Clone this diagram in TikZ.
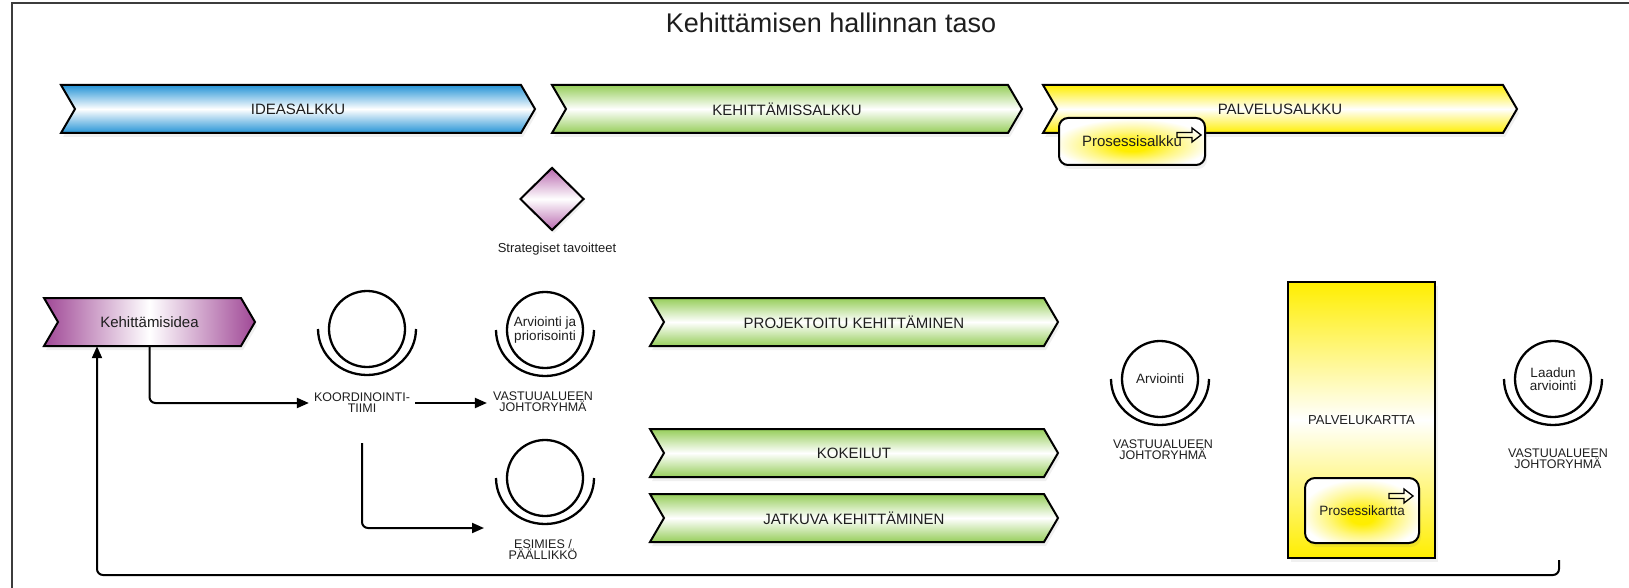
\documentclass[tikz,border=0pt]{standalone}
\usepackage{fontspec}
\setmainfont{Liberation Sans}
\usetikzlibrary{arrows.meta,shapes.geometric,shadows}

\definecolor{cblue}{RGB}{38,148,214}
\definecolor{cgreen}{RGB}{150,206,90}
\definecolor{cyellow}{RGB}{255,238,0}
\definecolor{cpurple}{RGB}{160,72,150}
\definecolor{cpink}{RGB}{185,105,175}
\definecolor{ink}{RGB}{30,30,30}
\definecolor{framegray}{RGB}{60,60,60}

% soft yellow glow for the process boxes
\pgfdeclareradialshading{yellowglow}{\pgfpoint{0bp}{-6bp}}{%
  color(0bp)=(cyellow); color(5bp)=(cyellow); color(15bp)=(cyellow!50!white);
  color(27bp)=(white); color(50bp)=(white)}

% chevron band: style, name, left x, tip x, top y, bottom y, text
\newcommand{\chevshape}[7]{%
  \path[#1] (#3,#5) -- ({#4-14},#5) -- (#4,{(#5+#6)/2}) -- ({#4-14},#6) -- (#3,#6) -- ({#3+14},{(#5+#6)/2}) -- cycle;
  \node[chevtext] (#2) at ({(#3+#4)/2},{(#5+#6)/2}) {#7};%
}
% role symbol: circle with a half ring below it
\newcommand{\rolemark}[4]{%
  \node[rolecirc] (#1) at (#2,#3) {#4};
  \draw[rolearc] ({#2-49},#3) arc[start angle=180, end angle=0, x radius=49, y radius=46];%
}
% hollow block arrow icon, left end x, centre y
\newcommand{\blockarrow}[2]{%
  \draw[line width=1.3pt, line join=miter] (#1,{#2-2.5}) -- ({#1+15},{#2-2.5}) -- ({#1+15},{#2-7}) -- ({#1+24},#2) -- ({#1+15},{#2+7}) -- ({#1+15},{#2+2.5}) -- (#1,{#2+2.5}) -- cycle;%
}

\begin{document}
\begin{tikzpicture}[x=1pt,y=-1pt,
  bandbase/.style={draw=black, line width=2pt,
    drop shadow={opacity=0.12, shadow xshift=2pt, shadow yshift=-4pt}},
  blueband/.style={bandbase, top color=cblue, bottom color=cblue, middle color=white},
  greenband/.style={bandbase, top color=cgreen, bottom color=cgreen, middle color=white},
  yellowband/.style={bandbase, top color=cyellow, bottom color=cyellow, middle color=white},
  purpleband/.style={bandbase, left color=cpurple, right color=cpurple, middle color=white},
  chevtext/.style={minimum height=48pt, inner sep=0pt, text=ink, font=\fontsize{15}{18}\selectfont},
  procbox/.style={draw=black, line width=2pt, rounded corners=9pt, shading=yellowglow,
    text=ink, drop shadow={opacity=0.12, shadow xshift=2pt, shadow yshift=-4pt}},
  kartta/.style={draw=black, line width=2pt, top color=cyellow, bottom color=cyellow, middle color=white,
    text=ink, font=\fontsize{13}{15}\selectfont,
    drop shadow={opacity=0.12, shadow xshift=3pt, shadow yshift=-4pt}},
  rolecirc/.style={circle, draw=black, line width=2.3pt, minimum size=76pt, inner sep=0pt,
    align=center, text=ink, font=\fontsize{13.5}{13.5}\selectfont},
  rolearc/.style={line width=2.3pt},
  rolelbl/.style={align=center, inner sep=5pt, text=ink, font=\fontsize{12.5}{11}\selectfont},
  smalltext/.style={text=ink, font=\fontsize{13}{15}\selectfont},
  conn/.style={line width=2pt, -{Triangle[length=12pt, width=10pt]}, rounded corners=6pt}
]
\useasboundingbox (0,0) rectangle (1629,588);

% frame of the level
\draw[framegray, line width=2.5pt] (12,588) -- (12,3) -- (1629,3);
\node[text=ink, font=\fontsize{27}{31}\selectfont] (title) at (831,23) {Kehittämisen hallinnan taso};

% portfolio bands
\chevshape{blueband}{ideas}{61}{535}{85}{133}{IDEASALKKU}
\chevshape{greenband}{kehs}{552}{1022}{85}{133}{KEHITTÄMISSALKKU}
\chevshape{yellowband}{palvs}{1043}{1517}{85}{133}{PALVELUSALKKU}

\node[procbox, minimum width=146pt, minimum height=47pt, font=\fontsize{15}{18}\selectfont] (psalk) at (1132,141.5) {Prosessisalkku};
\blockarrow{1177}{135}

% strategic goals
\node[diamond, draw=black, line width=2pt, minimum width=64pt, minimum height=63pt, inner sep=0pt,
  top color=cpink, bottom color=cpink, middle color=white,
  drop shadow={opacity=0.12, shadow xshift=2pt, shadow yshift=-3pt}] (strat) at (552,199) {};
\node[smalltext] (stratlbl) at (557,249) {Strategiset tavoitteet};

% development idea
\chevshape{purpleband}{kid}{44}{255}{298}{346}{Kehittämisidea}

% roles
\rolemark{koord}{367}{329}{}
\node[rolelbl] (koordlbl) at (362,403) {KOORDINOINTI-\\TIIMI};
\rolemark{prior}{545}{330}{Arviointi ja\\priorisointi}
\node[rolelbl, inner sep=6pt] (vastlbl) at (543,402) {VASTUUALUEEN\\JOHTORYHMÄ};
\rolemark{esim}{545}{478}{}
\node[rolelbl] (esimlbl) at (543,550) {ESIMIES /\\PÄÄLLIKKÖ};

% development tracks
\chevshape{greenband}{proj}{650}{1058}{298}{346}{PROJEKTOITU KEHITTÄMINEN}
\chevshape{greenband}{kok}{650}{1058}{429}{477}{KOKEILUT}
\chevshape{greenband}{jatk}{650}{1058}{494}{542}{JATKUVA KEHITTÄMINEN}

% evaluation
\rolemark{arv}{1160}{379}{Arviointi}
\node[rolelbl] (arvlbl) at (1163,450) {VASTUUALUEEN\\JOHTORYHMÄ};

% service map
\node[kartta, minimum width=147pt, minimum height=276pt] (pkartta) at (1361.5,420) {PALVELUKARTTA};
\node[procbox, minimum width=114pt, minimum height=65pt, rounded corners=10pt, font=\fontsize{13.5}{16}\selectfont] (pkk) at (1362,510.5) {Prosessikartta};
\blockarrow{1389}{496}

% quality evaluation
\rolemark{laatu}{1553}{379}{Laadun\\arviointi}
\node[rolelbl] (laatulbl) at (1558,459) {VASTUUALUEEN\\JOHTORYHMÄ};

% connectors
\coordinate (split) at (362,443);
\coordinate (esimin) at (484,528);
\coordinate (loopstart) at (1559,560);
\coordinate (loopx) at (97,575);
\draw[conn] (kid.south) |- (koordlbl.west);
\draw[conn] (koordlbl.east) -- (koordlbl.east -| vastlbl.west);
\draw[conn] (split) |- (esimin);
\draw[conn] (loopstart) |- (loopx) -- (loopx |- kid.south);
\end{tikzpicture}
\end{document}
